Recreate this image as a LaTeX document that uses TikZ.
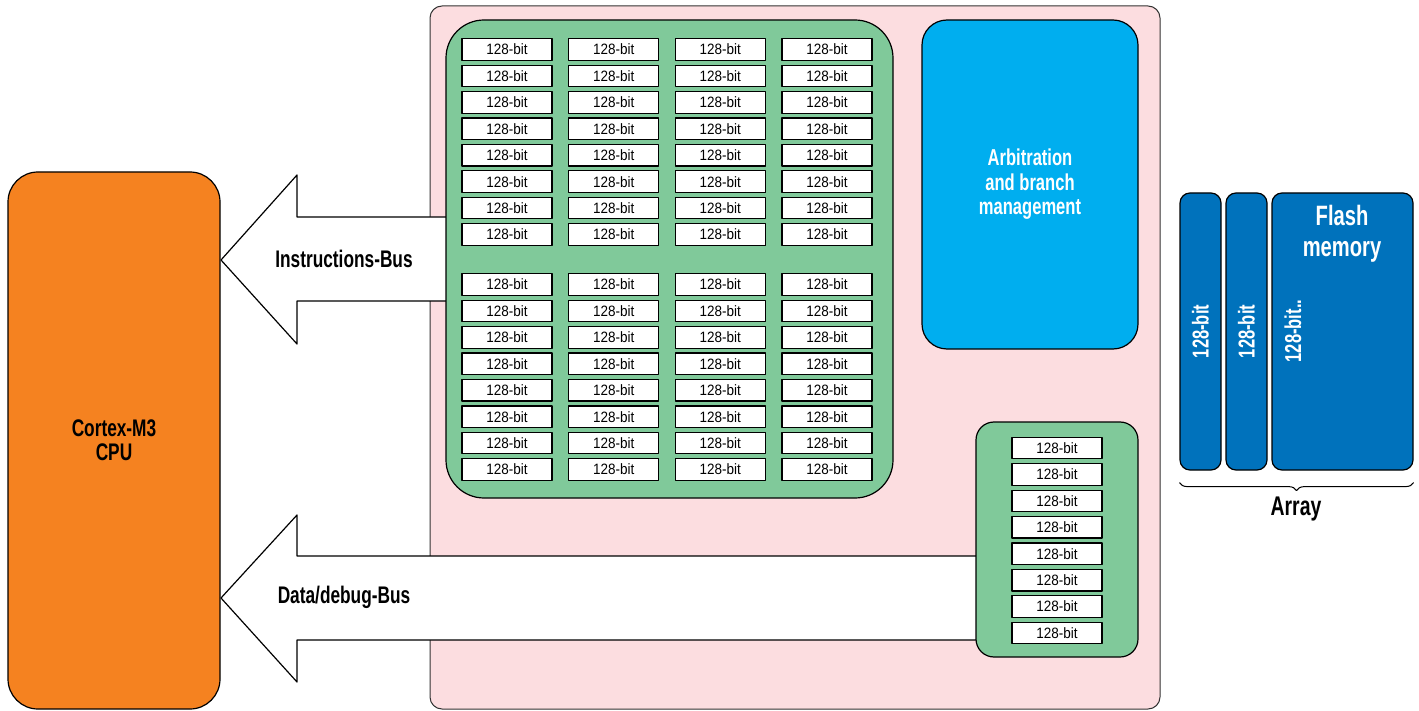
\documentclass[tikz,border=0pt]{standalone}
\usepackage{fontspec}
\setmainfont{Liberation Sans}[FakeStretch=0.9]
\newfontfamily\narrowfont{Liberation Sans}[FakeStretch=0.72]
\usetikzlibrary{decorations.pathreplacing}
\definecolor{cpuorange}{HTML}{F58220}
\definecolor{accpink}{HTML}{FCDDE0}
\definecolor{bufgreen}{HTML}{80C99A}
\definecolor{arbblue}{HTML}{00AEEF}
\definecolor{flashblue}{HTML}{0072BC}

\begin{document}
\begin{tikzpicture}[x=1pt, y=-1pt, line join=round,
  every node/.style={align=center, inner sep=0pt},
  box/.style={rectangle, draw, line width=1.2pt},
  cell/.style={box, fill=white, minimum width=90pt, minimum height=21.5pt, font=\fontsize{15}{18}\selectfont},
  label/.style={font=\narrowfont\bfseries\fontsize{24}{24}\selectfont},
  busarrow/.style={draw, fill=white, line width=1.2pt}]
  \useasboundingbox (0,0) rectangle (1419,711);

  % cpu and accelerator
  \node[box, fill=cpuorange, rounded corners=30pt, minimum width=212pt, minimum height=537pt, label] (cpu) at (114,440.5) {Cortex-M3\\CPU};
  \node[box, draw=black!80, line width=1pt, fill=accpink, rounded corners=12pt, minimum width=730pt, minimum height=703pt] (accel) at (795,357.5) {};

  % buses
  \draw[busarrow] (450,217) -- (297,217) -- (297,175) -- (221,260) -- (297,344) -- (297,301) -- (450,301) -- cycle;
  \draw[busarrow] (980,556) -- (297,556) -- (297,515) -- (221,598) -- (297,682) -- (297,640) -- (980,640) -- cycle;
  \node[label] (ibus) at (344,259) {Instructions-Bus};
  \node[label] (dbus) at (344,597) {Data/debug-Bus};

  % instruction buffers
  \node[box, fill=bufgreen, rounded corners=38pt, minimum width=447pt, minimum height=478pt] (ibuf) at (669.5,259) {};
  \foreach \c in {0,...,3} {
    \foreach \r in {0,...,7} {
      \node[cell] (ia-\c-\r) at (507+106.67*\c, 49.5+26.43*\r) {128-bit};
      \node[cell] (ib-\c-\r) at (507+106.67*\c, 284.5+26.43*\r) {128-bit};
    }
  }

  \node[box, fill=arbblue, rounded corners=25pt, minimum width=216pt, minimum height=329pt, text=white, font=\narrowfont\bfseries\fontsize{23}{24.5}\selectfont] (arb) at (1030,184.5) {Arbitration\\and branch\\management};

  % data buffers
  \node[box, fill=bufgreen, rounded corners=18pt, minimum width=162pt, minimum height=235pt] (dbuf) at (1057,539.5) {};
  \foreach \r in {0,...,7}
    \node[cell] (d-\r) at (1057, 448+26.43*\r) {128-bit};

  % flash
  \node[box, fill=flashblue, rounded corners=10pt, minimum width=41pt, minimum height=277pt] (col1) at (1200.5,331.5) {};
  \node[box, fill=flashblue, rounded corners=10pt, minimum width=41pt, minimum height=277pt] (col2) at (1246.5,331.5) {};
  \node[box, fill=flashblue, rounded corners=10pt, minimum width=141pt, minimum height=277pt] (col3) at (1342.5,331.5) {};
  \node[text=white, rotate=90, font=\narrowfont\bfseries\fontsize{23}{24}\selectfont] at (col1) {128-bit};
  \node[text=white, rotate=90, font=\narrowfont\bfseries\fontsize{23}{24}\selectfont] at (col2) {128-bit};
  \node[text=white, rotate=90, font=\narrowfont\bfseries\fontsize{23}{24}\selectfont] at (1293,331) {128-bit..};
  \node[text=white, font=\narrowfont\bfseries\fontsize{28}{31}\selectfont] (flash) at (1342,234) {Flash\\memory};

  \draw[line width=1pt, decorate, decoration={brace, amplitude=8pt, mirror}] (col1.south west) ++(0,12) coordinate (bl) -- (col3.south east |- bl) coordinate (br);
  \node[font=\narrowfont\bfseries\fontsize{27}{28}\selectfont] (array) at (1296,509) {Array};
\end{tikzpicture}
\end{document}
